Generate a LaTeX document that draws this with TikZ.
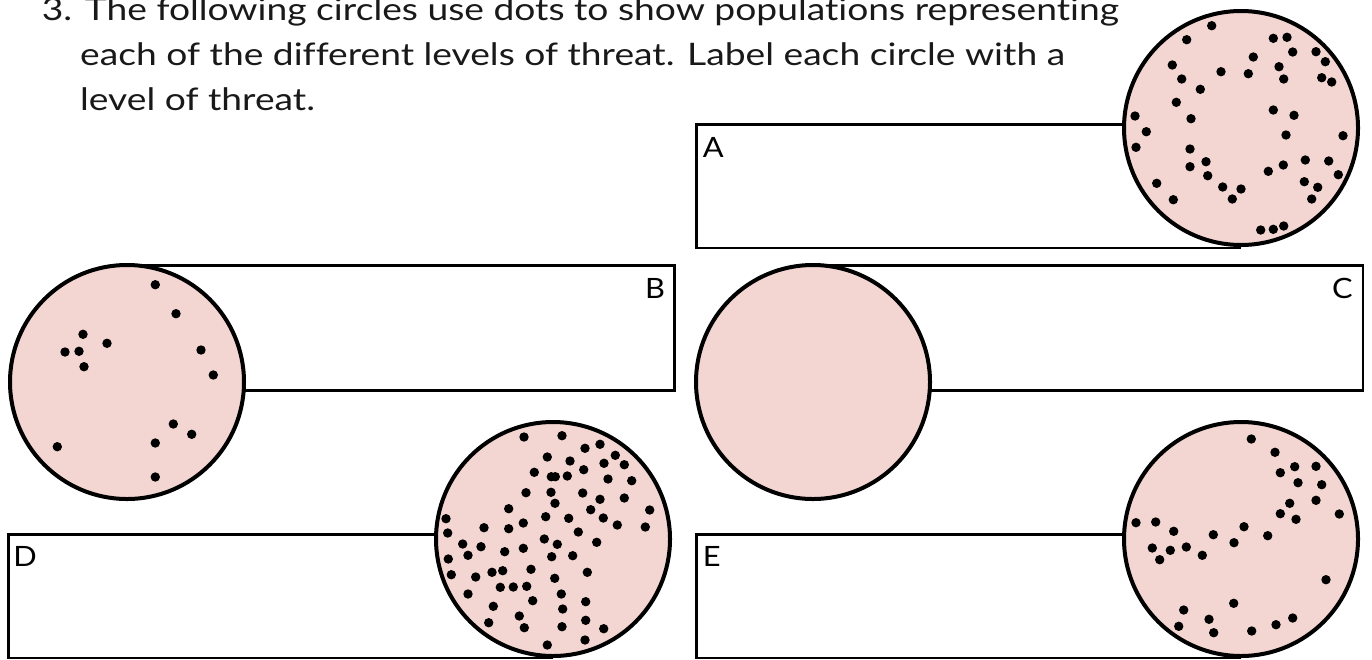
\documentclass[tikz,border=0pt]{standalone}
\usepackage{fontspec}
\setmainfont{Lato}[Ligatures=NoCommon]
\newfontfamily\titlefont{Lato}[Ligatures=NoCommon, FakeStretch=1.2]
\newfontfamily\labfont{Lato}[FakeStretch=1.1]
\definecolor{pinkfill}{RGB}{243,214,210}
\definecolor{txt}{RGB}{25,25,25}
\tikzset{
  box/.style={draw=black, line width=2.5pt, fill=white, rectangle, inner sep=0pt, anchor=north west},
  disc/.style={draw=black, line width=4pt, fill=pinkfill, circle, inner sep=0pt, minimum size=234pt},
  lab/.style={inner sep=0pt, text=black, font=\labfont\fontsize{28}{32}\selectfont},
  title/.style={inner sep=0pt, anchor=base west, text=txt, font=\titlefont\fontsize{31}{36}\selectfont},
  dot/.style={fill=black}
}
\begin{document}
\begin{tikzpicture}[x=1pt,y=-1pt]
\useasboundingbox (0,0) rectangle (1372,659);
% title
\node[title] (t1) at (41.7,20.7) {3. The following circles use dots to show populations representing};
\node[title] (t2) at (80,65.7) {each of the different levels of threat. Label each circle with a};
\node[title] (t3) at (80,110) {level of threat.};
% boxes
\node[box, minimum width=543pt, minimum height=123.4pt] (boxA) at (695,123.3) {};
\node[box, minimum width=543.3pt, minimum height=124.7pt] (boxB) at (130,264.3) {};
\node[box, minimum width=545.7pt, minimum height=124.7pt] (boxC) at (816,264.3) {};
\node[box, minimum width=543pt, minimum height=123.4pt] (boxD) at (7,533.3) {};
\node[box, minimum width=543pt, minimum height=123.4pt] (boxE) at (695,533.3) {};
% labels
\node[lab] (labA) at (713.3,147.3) {A};
\node[lab] (labB) at (655,288.3) {B};
\node[lab] (labC) at (1342.3,288.3) {C};
\node[lab] (labD) at (25,556) {D};
\node[lab] (labE) at (711.7,556) {E};
% circles
\node[disc] (cA) at (1241,128) {};
\node[disc] (cB) at (127,382) {};
\node[disc] (cC) at (813,382) {};
\node[disc] (cD) at (553,539) {};
\node[disc] (cE) at (1241,539) {};
% dots A
\foreach \p in {(1211.7,25.7),(1186.7,39.7),(1273.3,38.3),(1287,37.3),(1292.7,52),(1316,51.7),(1325.3,61.7),(1253.3,57),(1172.3,65),(1221,71.7),(1248.3,73.7),(1279,66.7),(1283.7,79),(1321.7,77.7),(1331.7,82),(1181.7,79),(1200.3,89.3),(1176.3,102.3),(1273.3,110),(1294,115.3),(1135,116),(1191,118.7),(1146.3,131.7),(1286,135),(1343,135.7),(1136,147.3),(1190,149),(1206,161.7),(1190,166.7),(1207.7,175.7),(1283.3,165),(1268.3,171.3),(1305.3,160),(1328.7,161),(1338.3,174.7),(1304.3,181.7),(1317.7,187.3),(1311.7,199),(1222.7,187),(1241,189),(1232.3,199),(1156.7,183.3),(1173.3,199.7),(1260.7,230),(1273.3,229.3),(1283.7,226)}
  \fill[dot] \p circle (4.7);
% dots B
\foreach \p in {(155.3,284.7),(176,313.7),(83,334.3),(107,343.3),(65,352),(79,351.3),(84,366.7),(201,350),(213.3,375),(173.3,424),(191.7,434.3),(155.3,443),(57.3,446.7),(155.3,477)}
  \fill[dot] \p circle (4.7);
% dots D
\foreach \p in {(524,437),(562,435.7),(585,448.3),(600,444.3),(615.3,455.3),(624.3,464.7),(604,463.3),(547.3,457),(570,461),(583.7,469.7),(534.3,472.3),(551.3,476.7),(555.3,476.7),(567.3,476),(608,479),(631.7,480.7),(526,492.7),(551,492.3),(582.7,493),(600,499.3),(624.3,498),(555,503.3),(508.7,508.7),(590.7,509.7),(649.7,510),(545.7,516.7),(568.7,518.3),(603.3,518),(446,518.7),(523.3,523),(617.3,525),(645.3,527),(484,527.7),(508.7,528.7),(578.3,532),(447.7,533),(544.3,539),(557.3,544.3),(596.7,542.3),(462.7,544),(481,546.7),(468,555.3),(504.7,551.7),(523.3,548.3),(551.7,556.7),(572.7,555.7),(448.3,559),(531,569.3),(587.3,572.3),(492,572.3),(502.7,570.7),(451.3,574.7),(475.7,577),(554.7,578.3),(500.3,587.3),(513.3,587),(526.7,586.3),(468,594),(561.3,594),(532.7,600.7),(585.7,601.7),(493.3,606.3),(562.7,609),(519.3,616),(585.7,620.3),(488.7,622.7),(524.3,627.7),(562,626.7),(603.7,628.7),(585,640),(547.3,645)}
  \fill[dot] \p circle (4.7);
% dots E
\foreach \p in {(1251.3,439),(1275,452.3),(1294.7,466.7),(1316,466.3),(1280.3,472.7),(1298,482.7),(1321.7,484.7),(1289.7,503.3),(1316,500.3),(1280.3,513.7),(1296,519.3),(1339.3,514),(1136,522.7),(1155.7,522),(1244,526.7),(1173.7,531.3),(1213.3,534.7),(1267.7,535.7),(1234,542.7),(1152.3,548),(1170.3,550.3),(1186.3,547),(1159.7,559.7),(1202.3,555.3),(1326,579.7),(1233.7,603.3),(1183.7,610),(1209,619.3),(1292.7,618),(1178.7,626.3),(1276,624.7),(1213.7,632.7),(1251.7,631)}
  \fill[dot] \p circle (4.7);
\end{tikzpicture}
\end{document}
